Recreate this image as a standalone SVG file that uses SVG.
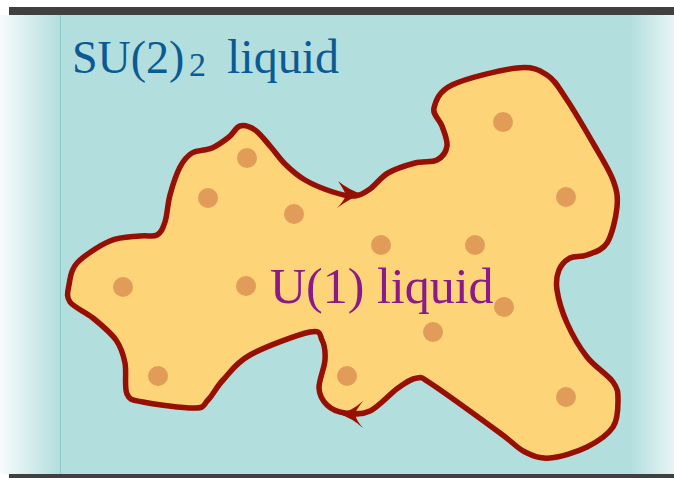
<svg xmlns="http://www.w3.org/2000/svg" width="674" height="478" viewBox="0 0 674 478">
<defs>
<linearGradient id="bg" x1="0" y1="0" x2="674" y2="0" gradientUnits="userSpaceOnUse">
<stop offset="0" stop-color="#f7fbfb"/>
<stop offset="0.089" stop-color="#b3dede"/>
<stop offset="0.935" stop-color="#b3dede"/>
<stop offset="1" stop-color="#e8f4f4"/>
</linearGradient>
<style>
.dot{fill:#e09c58}
.arrow{fill:#960f00}
.bar{fill:#404040}
</style>
</defs>
<rect x="0" y="0" width="674" height="478" fill="#ffffff"/>
<rect x="0" y="15" width="674" height="459" fill="url(#bg)"/>
<line x1="60.5" y1="15" x2="60.5" y2="474" stroke="#86cccc" stroke-width="1"/>
<rect class="bar" x="9" y="7" width="665" height="8"/>
<rect class="bar" x="9" y="474" width="665" height="4"/>
<g id="region-u1">
<path fill="#fed478" stroke="#960f00" stroke-width="5.5" stroke-linejoin="round" d="M240,126 C244.3,124.8 250,126.7 255,130 C260,133.3 265,140.3 270,146 C275,151.7 279.2,158.3 285,164 C290.8,169.7 297,175.3 305,180 C313,184.7 324.7,189.3 333,192 C341.3,194.7 348.8,196.5 355,196 C361.2,195.5 364.5,192.8 370,189 C375.5,185.2 380.5,177.3 388,173 C395.5,168.7 406.8,165.2 415,163 C423.2,160.8 431.7,162.8 437,160 C442.3,157.2 446.2,151.7 447,146 C447.8,140.3 444.2,132.3 442,126 C439.8,119.7 432.3,114.8 434,108 C435.7,101.2 438.2,91.7 452,85 C465.8,78.3 501.2,69.7 517,68 C532.8,66.3 538.7,69.7 547,75 C555.3,80.3 559.3,88.7 567,100 C574.7,111.3 585.3,129.7 593,143 C600.7,156.3 609,169.3 613,180 C617,190.7 618,196.5 617,207 C616,217.5 612,235 607,243 C602,251 593.2,252.5 587,255 C580.8,257.5 574.7,255.5 570,258 C565.3,260.5 561.2,264.7 559,270 C556.8,275.3 555.7,281.2 557,290 C558.3,298.8 562,311.8 567,323 C572,334.2 579.3,347.2 587,357 C594.7,366.8 607.8,374.8 613,382 C618.2,389.2 618,392.5 618,400 C618,407.5 618.2,419.2 613,427 C607.8,434.8 597.5,441.8 587,447 C576.5,452.2 560.3,457.2 550,458 C539.7,458.8 533.3,456.2 525,452 C516.7,447.8 515.3,444.2 500,433 C484.7,421.8 446.8,394.2 433,385 C419.2,375.8 422.8,377.5 417,378 C411.2,378.5 405.8,382.5 398,388 C390.2,393.5 378.8,406.8 370,411 C361.2,415.2 352.2,414 345,413 C337.8,412 331.3,409.2 327,405 C322.7,400.8 319.3,395.5 319,388 C318.7,380.5 324.5,368 325,360 C325.5,352 324.5,344.7 322,340 C319.5,335.3 322,329.5 310,332 C298,334.5 264.5,347 250,355 C235.5,363 230,372.5 223,380 C216,387.5 212.7,395.3 208,400 C203.3,404.7 205.8,407.7 195,408 C184.2,408.3 154.3,404.3 143,402 C131.7,399.7 130,400.5 127,394 C124,387.5 126.8,372 125,363 C123.2,354 121.3,347.5 116,340 C110.7,332.5 100.7,324.3 93,318 C85.3,311.7 74,307.5 70,302 C66,296.5 67.8,291.5 69,285 C70.2,278.5 70.2,270.3 77,263 C83.8,255.7 99.5,245.5 110,241 C120.5,236.5 132.2,237 140,236 C147.8,235 152.8,237.3 157,235 C161.2,232.7 162.8,228.7 165,222 C167.2,215.3 167.5,204.2 170,195 C172.5,185.8 176.3,174 180,167 C183.7,160 186.7,156.2 192,153 C197.3,149.8 205.8,150.7 212,148 C218.2,145.3 224.3,140.7 229,137 C233.7,133.3 235.7,127.2 240,126 Z"/>
<circle class="dot" cx="247" cy="158" r="10"/>
<circle class="dot" cx="208" cy="198" r="10"/>
<circle class="dot" cx="294" cy="214" r="10"/>
<circle class="dot" cx="381" cy="245" r="10"/>
<circle class="dot" cx="475" cy="245" r="10"/>
<circle class="dot" cx="503" cy="122" r="10"/>
<circle class="dot" cx="566" cy="197" r="10"/>
<circle class="dot" cx="123" cy="287" r="10"/>
<circle class="dot" cx="246" cy="286" r="10"/>
<circle class="dot" cx="504" cy="307" r="10"/>
<circle class="dot" cx="433" cy="332" r="10"/>
<circle class="dot" cx="347" cy="376" r="10"/>
<circle class="dot" cx="158" cy="376" r="10"/>
<circle class="dot" cx="566" cy="397" r="10"/>
<text x="270" y="303" font-family="Liberation Serif, serif" font-size="50" fill="#8a1a8a">U(1) liquid</text>
</g>
<g id="connectors">
<path class="arrow" d="M362,194 Q349,190 338,181 Q344,190 346,195 Q344,201 337,208 Q349,199 362,194 Z"/>
<path class="arrow" d="M339,414 Q352,411 363,401 Q356,410 355,414 Q356,420 363,428 Q352,418 339,414 Z"/>
</g>
<g id="region-su2">
<text y="73" font-family="Liberation Serif, serif" fill="#0b5a94"><tspan x="72" font-size="46">SU(2)</tspan><tspan x="189" dy="3" font-size="34">2</tspan><tspan x="227" dy="-3" font-size="48">liquid</tspan></text>
</g>
</svg>
